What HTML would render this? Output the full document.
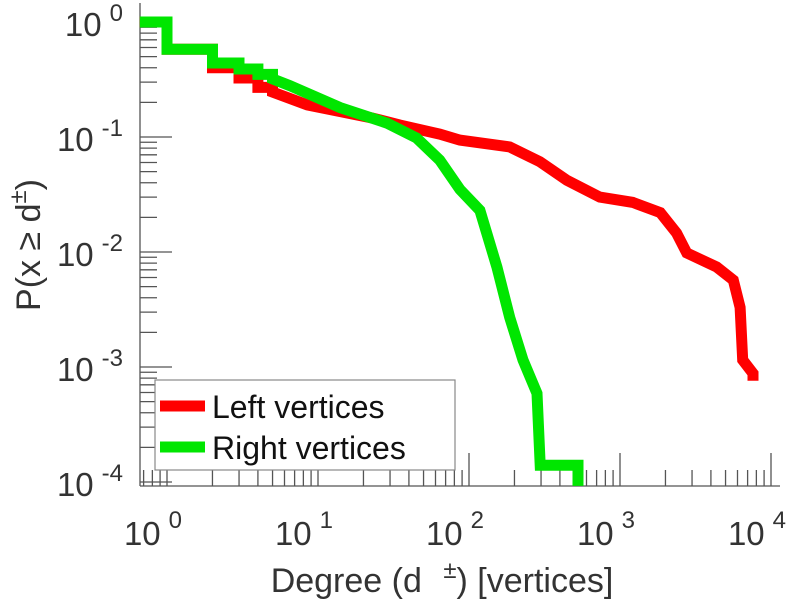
<!DOCTYPE html>
<html><head><meta charset="utf-8"><style>
body{margin:0;background:#fff;}
svg{display:block;font-family:"Liberation Sans",sans-serif;}
</style></head><body>
<svg id="chart" width="802" height="600"></svg>
<script>
const greenDeg=[0.66,1,1,2,2,3,3,4,4,5,5,6.5,14,28.6,45,64,87,118,153,186,228,282,296,527,527];
const greenProb=[1,1,0.58,0.58,0.44,0.44,0.39,0.39,0.35,0.35,0.32,0.28,0.18,0.132,0.098,0.063,0.035,0.023,0.0074,0.0027,0.00115,0.00059,0.00014,0.00014,0.0000925];
const redDeg=[0.66,1,1,2,2,3,3,4,4,5,5,8.5,23,35,64,87,186,295,445,735,1215,1850,2370,2770,4370,5630,6240,6500,7600,7600];
const redProb=[1,1,0.58,0.58,0.40,0.40,0.326,0.326,0.27,0.27,0.246,0.19,0.146,0.127,0.106,0.094,0.082,0.061,0.042,0.030,0.027,0.022,0.0146,0.0098,0.0074,0.0057,0.0033,0.00115,0.00088,0.00076];
const xTickExp=[0,1,2,3,4];
const yTickExp=[0,-1,-2,-3,-4];

const NS="http://www.w3.org/2000/svg";
const svg=document.getElementById('chart');
const X0=167,XD=151,Y0=22,YD=115,LEFT=140,RIGHT=780,BOTTOM=486,TOP=3;
function xs(d){return X0+XD*Math.log10(d);}
function ys(p){return Y0-YD*Math.log10(p);}
function mk(tag,attrs,parent){const e=document.createElementNS(NS,tag);for(const k in attrs)e.setAttribute(k,attrs[k]);(parent||svg).appendChild(e);return e;}

const axes=mk('g',{stroke:'#555','stroke-width':1.3});


mk('line',{x1:LEFT,y1:TOP,x2:LEFT,y2:BOTTOM},axes);
mk('line',{x1:LEFT,y1:BOTTOM,x2:RIGHT,y2:BOTTOM},axes);
for(let e=0;e>=-4;e--){
  mk('line',{x1:LEFT,y1:ys(Math.pow(10,e)),x2:LEFT+32,y2:ys(Math.pow(10,e))},axes);
  if(e>-4){for(let m=2;m<=9;m++){const y=ys(m*Math.pow(10,e-1));mk('line',{x1:LEFT,y1:y,x2:LEFT+17,y2:y},axes);}}
}
for(let e=-1;e<=3;e++){
  for(let m=1;m<=9;m++){const x=xs(m*Math.pow(10,e));if(x<LEFT||x>RIGHT)continue;
    const L=(m===1)?33:16;mk('line',{x1:x,y1:BOTTOM,x2:x,y2:BOTTOM-L},axes);}
}
mk('line',{x1:xs(1e4),y1:BOTTOM,x2:xs(1e4),y2:BOTTOM-33},axes);

yTickExp.forEach(e=>{
  const t=mk('text',{x:123,y:ys(Math.pow(10,e))+14,'text-anchor':'end','font-size':33,fill:'#333'});
  
  
  t.innerHTML='10<tspan dy="-15" font-size="24" dx="8">'+e+'</tspan>';
});
xTickExp.forEach(e=>{
  const t=mk('text',{x:xs(Math.pow(10,e))-14,y:545,'text-anchor':'middle','font-size':33,fill:'#333'});
  
  
  t.innerHTML='10<tspan dy="-17" font-size="24" dx="8">'+e+'</tspan>';
});

function series(deg,prob,color,name){
  const pts=deg.map((d,i)=>xs(d).toFixed(1)+','+ys(prob[i]).toFixed(1)).join(' ');
  const p=mk('polyline',{points:pts,fill:'none',stroke:color,'stroke-width':11,'stroke-linejoin':'miter','stroke-linecap':'butt'});
  
  
}
series(redDeg,redProb,'#ff0000','left-vertices-line');
series(greenDeg,greenProb,'#00e600','right-vertices-line');

const lg=mk('g',{});


mk('rect',{x:155,y:380,width:300,height:90,fill:'#fff',stroke:'#888','stroke-width':1.2},lg);
const e1=mk('line',{x1:160,y1:406,x2:205,y2:406,stroke:'#ff0000','stroke-width':11},lg);


const t1=mk('text',{x:212,y:418,'font-size':32,fill:'#111'},lg);t1.textContent='Left vertices';


const e2=mk('line',{x1:160,y1:447,x2:205,y2:447,stroke:'#00e600','stroke-width':11},lg);


const t2=mk('text',{x:212,y:459,'font-size':32,fill:'#111'},lg);t2.textContent='Right vertices';



const xt=mk('text',{x:442,y:592,'text-anchor':'middle','font-size':34,fill:'#333'});


xt.innerHTML='Degree (d <tspan dy="-14" font-size="24" dx="12">±</tspan><tspan dy="14">) [vertices]</tspan>';
const yt=mk('text',{x:0,y:0,'text-anchor':'middle','font-size':34,fill:'#333',transform:'translate(40,245) rotate(-90)'});


yt.innerHTML='P(x ≥ d<tspan dy="-14" font-size="24">±</tspan><tspan dy="14">)</tspan>';
</script>
</body></html>
